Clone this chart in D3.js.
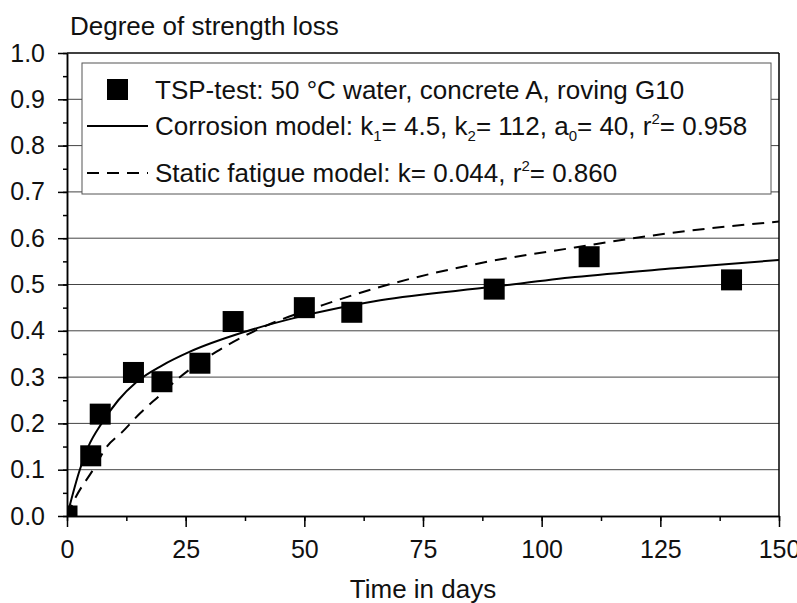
<!DOCTYPE html>
<html>
<head>
<meta charset="utf-8">
<script src="https://cdn.jsdelivr.net/npm/d3@7"></script>
<style>
  body { margin: 0; background: #fff; }
  text { font-family: "Liberation Sans", Arial, Helvetica, sans-serif; fill: #111; }
</style>
</head>
<body>
<div id="chart"></div>
<script>
// measured TSP-test points
const testDays = [0, 5, 7, 14, 20, 28, 35, 50, 60, 90, 110, 140];
const testLoss = [0.0, 0.13, 0.22, 0.31, 0.29, 0.33, 0.42, 0.45, 0.44, 0.49, 0.56, 0.51];

// fitted curves
const corrosionDays = [0, 2.7, 4.5, 7.3, 10.8, 14.7, 20, 25.9, 37.5, 48.4, 66, 89.8, 107, 128, 150];
const corrosionLoss = [0.0, 0.10, 0.15, 0.20, 0.25, 0.29, 0.325, 0.355, 0.398, 0.429, 0.466, 0.495, 0.516, 0.535, 0.553];
const fatigueDays = [0, 1.7, 5.5, 8.4, 11.5, 15.4, 19.6, 23.1, 31.5, 40, 54, 68.5, 87, 107, 127, 150];
const fatigueLoss = [0.0, 0.038, 0.10, 0.15, 0.18, 0.222, 0.261, 0.294, 0.355, 0.402, 0.456, 0.502, 0.546, 0.58, 0.611, 0.636];

const xTicks = [0, 25, 50, 75, 100, 125, 150];
const yTicks = [0, 0.1, 0.2, 0.3, 0.4, 0.5, 0.6, 0.7, 0.8, 0.9, 1.0];

const W = 797, H = 603;
const x = d3.scaleLinear().domain([0, 150]).range([67, 779]);
const y = d3.scaleLinear().domain([0, 1]).range([516, 53]);

const svg = d3.select('#chart').append('svg')
  .attr('width', W)
  .attr('height', H);

svg.append('defs').append('clipPath').attr('id', 'plot')
  .append('rect')
  .attr('x', x(0)).attr('y', y(1))
  .attr('width', x(150) - x(0)).attr('height', y(0) - y(1));

// horizontal grid
svg.append('g')
  .selectAll('line')
  .data(yTicks.slice(1, -1))
  .enter()
  .append('line')
  .attr('x1', x(0)).attr('x2', x(150))
  .attr('y1', d => y(d)).attr('y2', d => y(d))
  .attr('stroke', '#444')
  .attr('stroke-width', 1);

// frame: top and right
svg.append('line')
  .attr('x1', x(0)).attr('x2', x(150))
  .attr('y1', y(1)).attr('y2', y(1))
  .attr('stroke', '#000').attr('stroke-width', 1.5);
svg.append('line')
  .attr('x1', x(150)).attr('x2', x(150))
  .attr('y1', y(1)).attr('y2', y(0))
  .attr('stroke', '#000').attr('stroke-width', 1.5);

// legend box (drawn under the curves is not needed, it sits above the grid)
const legend = svg.append('g');
legend.append('rect')
  .attr('x', 82).attr('y', 63)
  .attr('width', 689).attr('height', 131)
  .attr('fill', '#fff')
  .attr('stroke', '#555')
  .attr('stroke-width', 1);

// axes
const yMinor = d3.range(0, 1.0001, 0.05);
const xMinor = d3.range(0, 150.001, 12.5);

const yAxis = svg.append('g')
  .attr('transform', `translate(${x(0)},0)`)
  .call(d3.axisLeft(y).tickValues(yTicks).tickSize(9).tickSizeOuter(0).tickPadding(13).tickFormat(d3.format('.1f')));
svg.append('g')
  .attr('transform', `translate(${x(0)},0)`)
  .call(d3.axisLeft(y).tickValues(yMinor).tickSize(4).tickSizeOuter(0).tickFormat(''));

const xAxis = svg.append('g')
  .attr('transform', `translate(0,${y(0)})`)
  .call(d3.axisBottom(x).tickValues(xTicks).tickSize(11).tickSizeOuter(0).tickPadding(13));
svg.append('g')
  .attr('transform', `translate(0,${y(0)})`)
  .call(d3.axisBottom(x).tickValues(xMinor).tickSize(5).tickSizeOuter(0).tickFormat(''));

svg.selectAll('.domain, .tick line')
  .attr('stroke', '#000')
  .attr('stroke-width', 1.5);
svg.selectAll('.tick text')
  .style('font-size', '25px')
  .attr('fill', '#111');

// curves
const line = d3.line()
  .x(d => x(d[0]))
  .y(d => y(d[1]))
  .curve(d3.curveMonotoneX);

const plot = svg.append('g').attr('clip-path', 'url(#plot)');

plot.append('path')
  .datum(d3.zip(fatigueDays, fatigueLoss))
  .attr('d', line)
  .attr('fill', 'none')
  .attr('stroke', '#000')
  .attr('stroke-width', 2)
  .attr('stroke-dasharray', '12,8');

plot.append('path')
  .datum(d3.zip(corrosionDays, corrosionLoss))
  .attr('d', line)
  .attr('fill', 'none')
  .attr('stroke', '#000')
  .attr('stroke-width', 2);

// test points
const sq = 21;
plot.selectAll('rect.pt')
  .data(d3.zip(testDays, testLoss))
  .enter()
  .append('rect')
  .attr('class', 'pt')
  .attr('x', d => x(d[0]) - sq / 2)
  .attr('y', d => y(d[1]) - sq / 2)
  .attr('width', sq)
  .attr('height', sq)
  .attr('fill', '#000');

// legend entries
legend.append('rect')
  .attr('x', 107).attr('y', 79)
  .attr('width', sq).attr('height', sq)
  .attr('fill', '#000');
legend.append('text')
  .attr('x', 155).attr('y', 99)
  .style('font-size', '26px')
  .text('TSP-test: 50 \u00B0C water, concrete A, roving G10');

legend.append('line')
  .attr('x1', 87).attr('x2', 148)
  .attr('y1', 126).attr('y2', 126)
  .attr('stroke', '#000').attr('stroke-width', 2);
const t2 = legend.append('text')
  .attr('x', 155).attr('y', 135)
  .style('font-size', '26px');
t2.append('tspan').text('Corrosion model: k');
t2.append('tspan').attr('dy', 6).style('font-size', '15px').text('1');
t2.append('tspan').attr('dy', -6).text('= 4.5, k');
t2.append('tspan').attr('dy', 6).style('font-size', '15px').text('2');
t2.append('tspan').attr('dy', -6).text('= 112, a');
t2.append('tspan').attr('dy', 6).style('font-size', '15px').text('0');
t2.append('tspan').attr('dy', -6).text('= 40, r');
t2.append('tspan').attr('dy', -11).style('font-size', '15px').text('2');
t2.append('tspan').attr('dy', 11).text('= 0.958');

legend.append('line')
  .attr('x1', 87).attr('x2', 148)
  .attr('y1', 173).attr('y2', 173)
  .attr('stroke', '#000').attr('stroke-width', 2)
  .attr('stroke-dasharray', '12,8');
const t3 = legend.append('text')
  .attr('x', 155).attr('y', 182)
  .style('font-size', '26px');
t3.append('tspan').text('Static fatigue model: k= 0.044, r');
t3.append('tspan').attr('dy', -11).style('font-size', '15px').text('2');
t3.append('tspan').attr('dy', 11).text('= 0.860');

// axis titles
svg.append('text')
  .attr('x', 70).attr('y', 35)
  .style('font-size', '26px')
  .text('Degree of strength loss');
svg.append('text')
  .attr('x', (x(0) + x(150)) / 2).attr('y', 598)
  .attr('text-anchor', 'middle')
  .style('font-size', '26px')
  .text('Time in days');
</script>
</body>
</html>
